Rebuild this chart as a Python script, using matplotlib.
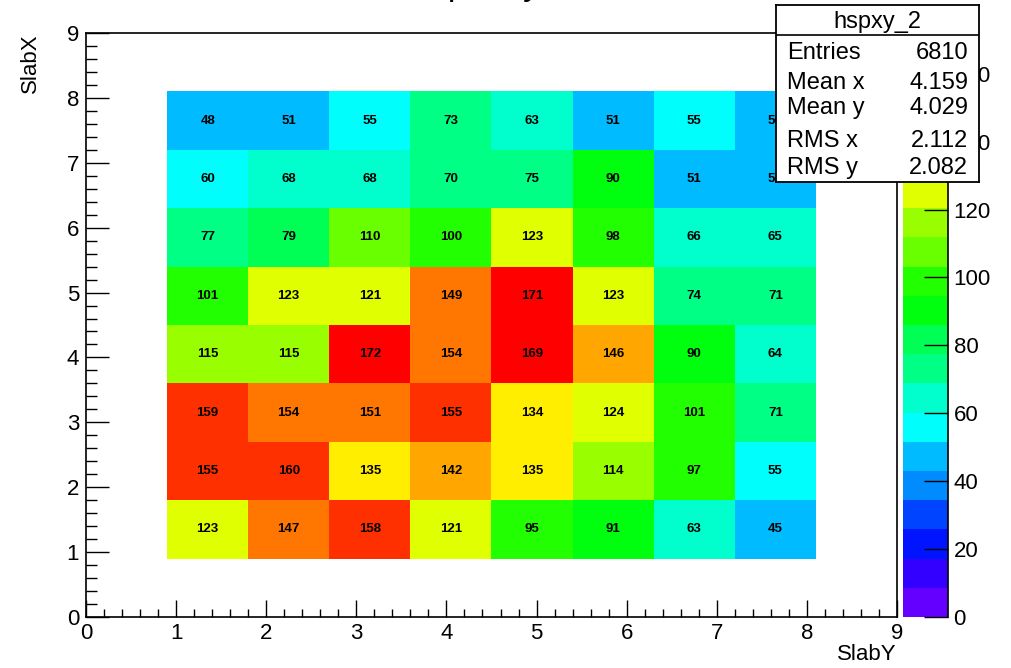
import colorsys
import numpy as np
import matplotlib
matplotlib.use('Agg')
import matplotlib.pyplot as plt
from matplotlib.colors import ListedColormap, BoundaryNorm
from matplotlib.ticker import MultipleLocator

plt.rcParams['font.family'] = ['Liberation Sans', 'DejaVu Sans']

# bin contents, rows from SlabX bin 8 (top) down to bin 1, columns SlabY bin 1..8
counts_top_down = [
    [48, 51, 55, 73, 63, 51, 55, 50],
    [60, 68, 68, 70, 75, 90, 51, 51],
    [77, 79, 110, 100, 123, 98, 66, 65],
    [101, 123, 121, 149, 171, 123, 74, 71],
    [115, 115, 172, 154, 169, 146, 90, 64],
    [159, 154, 151, 155, 134, 124, 101, 71],
    [155, 160, 135, 142, 135, 114, 97, 55],
    [123, 147, 158, 121, 95, 91, 63, 45],
]
counts = np.array(counts_top_down[::-1])
nbins = 8
xlo, xhi = 0.9, 8.1

hist_name = 'hspxy_2'
hist_title = 'Slab occupancy'
stat_names = ['Entries', 'Mean x', 'Mean y', 'RMS x', 'RMS y']
stat_values = ['6810', '4.159', '4.029', '2.112', '2.082']
cb_ticks = [0, 20, 40, 60, 80, 100, 120, 140, 160]

# ROOT "pretty" palette (violet -> red, 50 hues) sampled on 20 contour levels
ncont = 20
levels = np.linspace(0, counts.max(), ncont + 1)
cols = []
for k in range(ncont):
    idx = int((k + 0.99) * 50 / ncont)
    hue = 280 - (idx + 1) * 280.0 / 50
    cols.append(colorsys.hls_to_rgb(hue / 360.0, 0.5, 1.0))
cmap = ListedColormap(cols)
norm = BoundaryNorm(levels, cmap.N, clip=True)

W, H = 1012, 668
fig = plt.figure(figsize=(W / 100, H / 100), dpi=100)

def px(x0, y0, x1, y1):
    return [x0 / W, 1 - y1 / H, (x1 - x0) / W, (y1 - y0) / H]

ax = fig.add_axes(px(86, 33, 897, 617))
edges = np.linspace(xlo, xhi, nbins + 1)
centers = 0.5 * (edges[1:] + edges[:-1])
mesh = ax.pcolormesh(edges, edges, counts, cmap=cmap, norm=norm)
for i in range(nbins):
    for j in range(nbins):
        ax.text(centers[j], centers[i], str(counts[i, j]), ha='center', va='center',
                fontsize=9.5, fontweight='bold', color='black')

ax.set_xlim(0, 9)
ax.set_ylim(0, 9)
ax.xaxis.set_major_locator(MultipleLocator(1))
ax.yaxis.set_major_locator(MultipleLocator(1))
ax.xaxis.set_minor_locator(MultipleLocator(0.2))
ax.yaxis.set_minor_locator(MultipleLocator(0.2))
ax.tick_params(axis='x', which='major', direction='in', length=12, width=1, labelsize=16, pad=4)
ax.tick_params(axis='x', which='minor', direction='in', length=6, width=1)
ax.tick_params(axis='y', which='major', direction='in', length=16.5, width=1, labelsize=16, pad=5)
ax.tick_params(axis='y', which='minor', direction='in', length=8, width=1)
for s in ax.spines.values():
    s.set_linewidth(1.2)

fig.text(897 / W, 1 - 655 / H, 'SlabY', ha='right', va='center', fontsize=16)
fig.text(30 / W, 1 - 33 / H, 'SlabX', ha='center', va='top', rotation=90, fontsize=16)
fig.text(295 / W, 1 + 4.5 / H, hist_title, ha='left', va='baseline', fontsize=25)

# palette axis
cax = fig.add_axes(px(903, 33, 948, 617))
cb = fig.colorbar(mesh, cax=cax, ticks=cb_ticks)
cb.outline.set_visible(False)
cb.minorticks_off()
cax.tick_params(axis='y', direction='in', length=17, width=1, labelsize=16, pad=4,
                right=True, left=False)
cax.plot([1, 1], [0, 1], transform=cax.transAxes, color='black', lw=1.2, clip_on=False)

# statistics box
sax = fig.add_axes(px(776, 5, 979, 182), zorder=10)
sax.set_xlim(0, 203)
sax.set_ylim(177, 0)
sax.set_xticks([])
sax.set_yticks([])
sax.set_facecolor('white')
for s in sax.spines.values():
    s.set_linewidth(1.3)
sax.axhline(30, color='black', lw=1.2)
sax.text(101.5, 17, hist_name, ha='center', va='center', fontsize=17)
row_y = [48, 78, 103, 136, 163]
for name, val, y in zip(stat_names, stat_values, row_y):
    sax.text(11, y, name, ha='left', va='center', fontsize=17)
    sax.text(192, y, val, ha='right', va='center', fontsize=17)

fig.savefig('out.png', dpi=100)
